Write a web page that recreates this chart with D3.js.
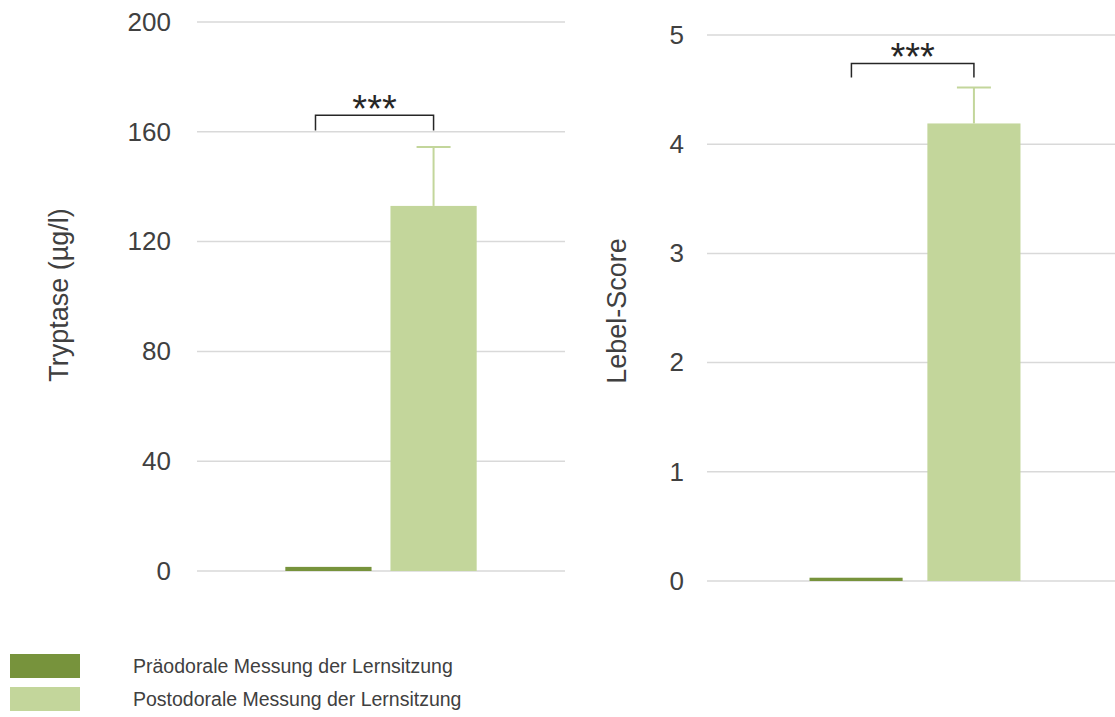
<!DOCTYPE html>
<html>
<head>
<meta charset="utf-8">
<script src="https://cdn.jsdelivr.net/npm/d3@7"></script>
<style>
  body { margin: 0; background: #fff; }
  text { font-family: Arial, "Liberation Sans", sans-serif; fill: #404040; }
</style>
</head>
<body>
<div id="chart"></div>
<script>
// data
let groups = ["pre", "post"];
let legendLabels = ["Präodorale Messung der Lernsitzung", "Postodorale Messung der Lernsitzung"];
let tryptaseMeans = [1.5, 133];
let tryptaseErr = [0, 21.5];
let tryptaseTicks = [0, 40, 80, 120, 160, 200];
let lebelMeans = [0.03, 4.19];
let lebelErr = [0, 0.33];
let lebelTicks = [0, 1, 2, 3, 4, 5];
let sigLabel = "***";

let colors = {pre: "#77933c", post: "#c3d69b"};

let svg = d3.select("#chart").append("svg")
    .attr("width", 1115)
    .attr("height", 717);

function panel(opt){
    let x = d3.scaleBand()
        .domain(groups)
        .range(opt.xRange)
        .paddingInner(opt.pi)
        .paddingOuter(opt.po);
    let y = d3.scaleLinear()
        .domain([opt.ticks[0], opt.ticks[opt.ticks.length-1]])
        .range(opt.yRange);

    let g = svg.append("g");

    // gridlines
    g.selectAll(".grid")
        .data(opt.ticks)
        .enter().append("line")
        .attr("x1", opt.xRange[0])
        .attr("x2", opt.xRange[1])
        .attr("y1", d => y(d))
        .attr("y2", d => y(d))
        .style("stroke", "#d9d9d9")
        .style("stroke-width", 1.5);

    let yAxis = d3.axisLeft(y).tickValues(opt.ticks).tickFormat(d3.format("d")).tickSize(0).tickPadding(0);
    let ax = g.append("g")
        .attr("transform", "translate(" + opt.labelX + ",0)")
        .call(yAxis);
    ax.select(".domain").remove();
    ax.selectAll("text").style("font-size", "26px").style("fill", "#404040");

    // bars
    g.selectAll(".bar")
        .data(groups)
        .enter().append("rect")
        .attr("x", d => x(d))
        .attr("width", x.bandwidth())
        .attr("y", (d, i) => y(opt.means[i]))
        .attr("height", (d, i) => y(0) - y(opt.means[i]))
        .style("fill", d => colors[d]);

    // error bar on post bar
    let cx = x("post") + x.bandwidth() / 2;
    let top = y(opt.means[1] + opt.err[1]);
    g.append("line")
        .attr("x1", cx).attr("x2", cx)
        .attr("y1", y(opt.means[1])).attr("y2", top)
        .style("stroke", "#c3d69b").style("stroke-width", 2);
    g.append("line")
        .attr("x1", cx - 17).attr("x2", cx + 17)
        .attr("y1", top).attr("y2", top)
        .style("stroke", "#c3d69b").style("stroke-width", 2);

    // significance bracket
    let bx1 = x("pre") + x.bandwidth() * opt.bl;
    let bx2 = cx;
    let by = y(opt.bracket[0]), bb = y(opt.bracket[1]);
    g.append("path")
        .attr("d", "M" + bx1 + "," + bb + "V" + by + "H" + bx2 + "V" + bb)
        .style("fill", "none")
        .style("stroke", "#262626")
        .style("stroke-width", 1.5);
    g.append("text")
        .attr("x", (bx1 + bx2) / 2)
        .attr("y", by + 7)
        .attr("text-anchor", "middle")
        .style("font-size", "38px")
        .style("fill", "#262626")
        .text(sigLabel);

    // y label
    g.append("text")
        .attr("transform", "translate(" + opt.titleX + "," + opt.titleY + ") rotate(-90)")
        .attr("text-anchor", "middle")
        .style("font-size", "27px")
        .text(opt.title);
}

panel({
    xRange: [197, 565], pi: 0.18, po: 0.84,
    yRange: [571, 22], ticks: tryptaseTicks,
    means: tryptaseMeans, err: tryptaseErr,
    bracket: [166, 160.5], bl: 0.35,
    labelX: 171, title: "Tryptase (µg/l)", titleX: 68, titleY: 295
});

panel({
    xRange: [707, 1123], pi: 0.21, po: 0.87,
    yRange: [581, 35], ticks: lebelTicks,
    means: lebelMeans, err: lebelErr,
    bracket: [4.74, 4.61], bl: 0.45,
    labelX: 684, title: "Lebel-Score", titleX: 626, titleY: 311
});

// legend
let lg = svg.append("g");
lg.selectAll("rect")
    .data(groups)
    .enter().append("rect")
    .attr("x", 10)
    .attr("y", (d, i) => 654 + i * 33)
    .attr("width", 70)
    .attr("height", 24)
    .style("fill", d => colors[d]);
lg.selectAll("text")
    .data(legendLabels)
    .enter().append("text")
    .attr("x", 133)
    .attr("y", (d, i) => 673 + i * 33)
    .style("font-size", "19.5px")
    .text(d => d);
</script>
</body>
</html>
